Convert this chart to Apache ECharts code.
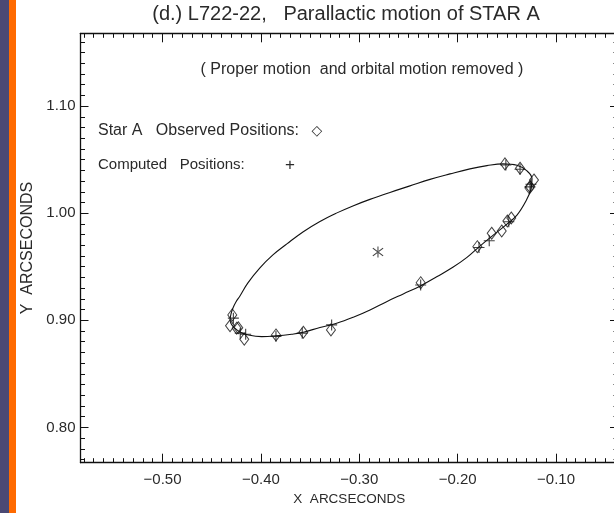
<!DOCTYPE html>
<html>
<head>
<meta charset="utf-8">
<script src="https://cdn.jsdelivr.net/npm/echarts@6/dist/echarts.min.js"></script>
<style>
html,body{margin:0;padding:0;background:#fff;overflow:hidden;width:614px;height:513px;}
#chart{width:624px;height:513px;}
</style>
</head>
<body>
<div id="chart"></div>
<script>
// ---- data ----
const titleText = '(d.) L722-22,   Parallactic motion of STAR A';
const subtitleText = '( Proper motion  and orbital motion removed )';
const legendObserved = 'Star A   Observed Positions:';
const legendComputed = 'Computed   Positions:';
const xAxisName = 'X  ARCSECONDS';
const yAxisName = 'Y  ARCSECONDS';

const xRange = [-0.5834, -0.037];
const yRange = [0.767, 1.168];
const xMajorTicks = [-0.5, -0.4, -0.3, -0.2, -0.1];
const yMajorTicks = [0.8, 0.9, 1.0, 1.1];
const xMinorStart = -0.58, xMinorEnd = -0.04, yMinorStart = 0.77, yMinorEnd = 1.16, minorStep = 0.01;

// fitted orbit curve
const orbitCurve = [
  [-0.4314,0.9003],[-0.4304,0.9059],[-0.4284,0.9115],[-0.4254,0.9171],[-0.4213,0.9227],
  [-0.4132,0.9349],[-0.4010,0.9489],[-0.3878,0.9610],[-0.3736,0.9713],[-0.3573,0.9825],
  [-0.3400,0.9923],[-0.3227,1.0003],[-0.3065,1.0068],[-0.2892,1.0129],[-0.2688,1.0194],
  [-0.2485,1.0255],[-0.2281,1.0316],[-0.2078,1.0367],[-0.1875,1.0414],[-0.1702,1.0444],
  [-0.1539,1.0461],[-0.1397,1.0447],[-0.1295,1.0395],[-0.1244,1.0321],[-0.1254,1.0227],
  [-0.1310,1.0106],[-0.1397,0.9982],[-0.1499,0.9898],[-0.1638,0.9795],[-0.1773,0.9693],
  [-0.1905,0.9587],[-0.2045,0.9497],[-0.2213,0.9406],[-0.2383,0.9318],[-0.2553,0.9246],
  [-0.2722,0.9174],[-0.2891,0.9096],[-0.3061,0.9028],[-0.3230,0.8972],[-0.3400,0.8933],
  [-0.3569,0.8888],[-0.3687,0.8870],[-0.3847,0.8854],[-0.3992,0.8847],[-0.4128,0.8863],
  [-0.4213,0.8891],[-0.4274,0.8933],[-0.4304,0.8970],[-0.4314,0.9003]
];
const observedPositions = [
  [-0.4291,0.905],[-0.4314,0.8949],[-0.4246,0.8926],[-0.4230,0.8930],[-0.4169,0.8823],
  [-0.3847,0.8863],[-0.3569,0.8888],[-0.3288,0.8910],[-0.2376,0.9351],[-0.1800,0.9687],
  [-0.1654,0.9813],[-0.1552,0.9834],[-0.1495,0.9927],[-0.1455,0.9955],[-0.1270,1.0235],
  [-0.1265,1.0248],[-0.1224,1.031],[-0.1366,1.042],[-0.1519,1.046]
];
const computedPositions = [
  [-0.428,0.902],[-0.421,0.888],[-0.4155,0.887],[-0.3847,0.885],[-0.358,0.888],
  [-0.3281,0.8957],[-0.2376,0.933],[-0.1783,0.968],[-0.1679,0.9743],[-0.148,0.992],
  [-0.1265,1.0246],[-0.1255,1.027],[-0.1366,1.041],[-0.151,1.045]
];
const parallaxCenter = [[-0.281,0.9638]];

// ---- helpers ----
function steps(a, b, s) {
  const out = [];
  const n = Math.round((b - a) / s);
  for (let i = 0; i <= n; i++) out.push(Math.round((a + i * s) * 1000) / 1000);
  return out;
}
const xMinorTicks = steps(xMinorStart, xMinorEnd, minorStep);
const yMinorTicks = steps(yMinorStart, yMinorEnd, minorStep);
const fmt = v => (v < 0 ? '\u2212' : '') + Math.abs(v).toFixed(2);

const FONT = '"Liberation Sans", Arial, sans-serif';
const INK = '#111';
const TXT = '#2a2a2a';
const gridBox = { left: 80.5, top: 33.3, width: 537.5, height: 429.4 };

function xAx(gi, pos, major, withLine, withLabel) {
  const ticks = major ? xMajorTicks : xMinorTicks;
  return {
    type: 'value', gridIndex: gi, position: pos, min: xRange[0], max: xRange[1],
    axisLine: { show: withLine, onZero: false, lineStyle: { color: INK, width: 1.3 } },
    axisTick: { show: true, inside: true, length: major ? 9 : 4.5, customValues: ticks, lineStyle: { color: INK, width: 1 } },
    axisLabel: withLabel ? { show: true, customValues: xMajorTicks, formatter: fmt, margin: 10, fontSize: 15, fontFamily: FONT, color: TXT } : { show: false },
    splitLine: { show: false }, minorTick: { show: false },
    name: withLabel ? xAxisName : '', nameLocation: 'middle', nameGap: 28,
    nameTextStyle: { fontSize: 13.5, fontFamily: FONT, color: TXT }
  };
}
function yAx(gi, pos, major, withLine, withLabel) {
  const ticks = major ? yMajorTicks : yMinorTicks;
  return {
    type: 'value', gridIndex: gi, position: pos, min: yRange[0], max: yRange[1],
    axisLine: { show: withLine, onZero: false, lineStyle: { color: INK, width: 1.3 } },
    axisTick: { show: true, inside: true, length: major ? 8 : 4.5, customValues: ticks, lineStyle: { color: INK, width: 1 } },
    axisLabel: withLabel ? { show: true, customValues: yMajorTicks, formatter: fmt, margin: 5, fontSize: 15, fontFamily: FONT, color: TXT } : { show: false },
    splitLine: { show: false }, minorTick: { show: false },
    name: withLabel ? yAxisName : '', nameLocation: 'middle', nameGap: 42, nameRotate: 90,
    nameTextStyle: { fontSize: 16, fontFamily: FONT, color: TXT }
  };
}

const plusPath = 'path://M4.5,0h1v10h-1zM0,4.5h10v1h-10z';
const starPath = 'path://M5.5,0h1v12h-1zM0.6,2.2L1.3,1.4L11.4,9.8L10.7,10.6zM11.4,2.2L10.7,1.4L0.6,9.8L1.3,10.6z';

const chart = echarts.init(document.getElementById('chart'), null, { renderer: 'canvas' });
chart.setOption({
  animation: false,
  backgroundColor: '#ffffff',
  grid: [Object.assign({}, gridBox), Object.assign({}, gridBox), Object.assign({}, gridBox), Object.assign({}, gridBox)],
  xAxis: [xAx(0, 'bottom', true, true, true), xAx(1, 'bottom', false, false, false), xAx(2, 'top', true, true, false), xAx(3, 'top', false, false, false)],
  yAxis: [yAx(0, 'left', true, true, true), yAx(1, 'left', false, false, false), yAx(2, 'right', true, true, false), yAx(3, 'right', false, false, false)],
  graphic: [
    { type: 'rect', left: 0, top: 0, shape: { width: 9, height: 513 }, style: { fill: '#4b4974' }, z: 100 },
    { type: 'rect', left: 9, top: 0, shape: { width: 7, height: 513 }, style: { fill: '#ff6a00' }, z: 100 },
    { type: 'text', x: 346, y: 14, style: { text: titleText, font: '20px ' + FONT, fill: TXT, textAlign: 'center', textVerticalAlign: 'middle' }, z: 100 },
    { type: 'text', x: 362, y: 70, style: { text: subtitleText, font: '16px ' + FONT, fill: TXT, textAlign: 'center', textVerticalAlign: 'middle' }, z: 100 },
    { type: 'text', x: 98, y: 131, style: { text: legendObserved, font: '16px ' + FONT, fill: TXT, textAlign: 'left', textVerticalAlign: 'middle' }, z: 100 },
    { type: 'text', x: 317, y: 131, style: { text: '\u25C7', font: '14px "DejaVu Sans", sans-serif', fill: TXT, textAlign: 'center', textVerticalAlign: 'middle' }, z: 100 },
    { type: 'text', x: 98, y: 165, style: { text: legendComputed, font: '15px ' + FONT, fill: TXT, textAlign: 'left', textVerticalAlign: 'middle' }, z: 100 },
    { type: 'text', x: 290, y: 165, style: { text: '+', font: '17px ' + FONT, fill: TXT, textAlign: 'center', textVerticalAlign: 'middle' }, z: 100 }
  ],
  series: [
    { type: 'line', name: 'orbit', xAxisIndex: 0, yAxisIndex: 0, data: orbitCurve, showSymbol: false, smooth: 0.4,
      lineStyle: { color: INK, width: 1.1 }, silent: true, z: 2 },
    { type: 'scatter', name: 'observed', xAxisIndex: 0, yAxisIndex: 0, data: observedPositions, symbol: 'diamond', symbolSize: [9, 12],
      itemStyle: { color: 'rgba(255,255,255,0)', borderColor: INK, borderWidth: 1 }, z: 3 },
    { type: 'scatter', name: 'computed', xAxisIndex: 0, yAxisIndex: 0, data: computedPositions, symbol: plusPath, symbolSize: 11,
      itemStyle: { color: INK }, z: 4 },
    { type: 'scatter', name: 'center', xAxisIndex: 0, yAxisIndex: 0, data: parallaxCenter, symbol: starPath, symbolSize: 11,
      itemStyle: { color: INK }, z: 4 }
  ]
});
</script>
</body>
</html>
